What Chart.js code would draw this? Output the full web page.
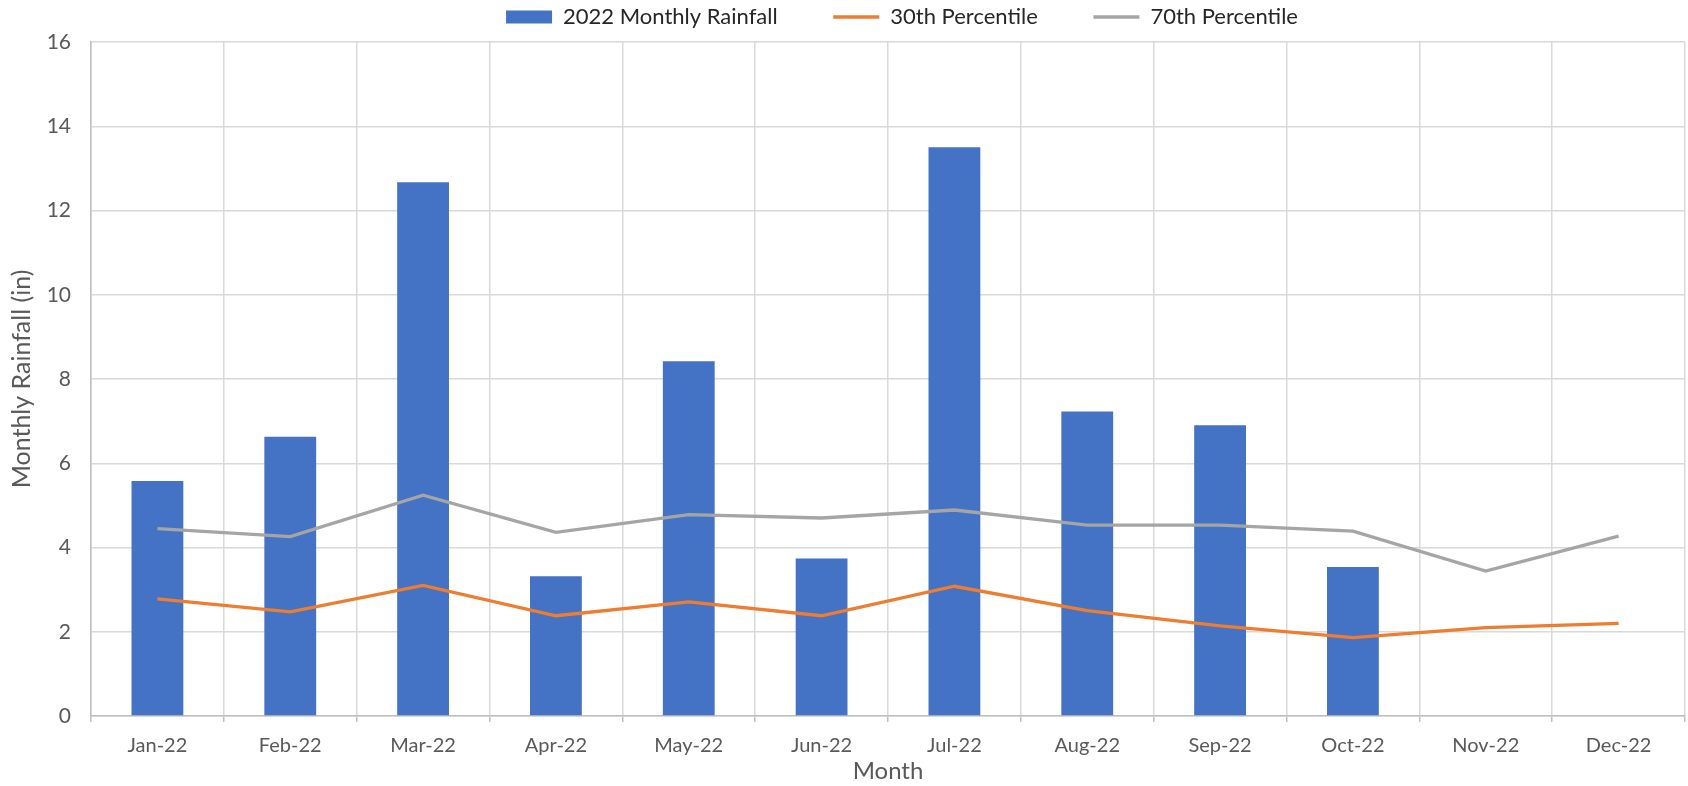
<!DOCTYPE html>
<html>
<head>
<meta charset="utf-8">
<script src="https://cdn.jsdelivr.net/npm/chart.js@4"></script>
<style>
    html, body { margin: 0; padding: 0; background: #fff; }
    #wrap { width: 1688px; height: 786px; position: relative; }
</style>
</head>
<body>
<div id="wrap"><canvas id="rainChart"></canvas></div>
<script>
const months = ['Jan-22', 'Feb-22', 'Mar-22', 'Apr-22', 'May-22', 'Jun-22',
                'Jul-22', 'Aug-22', 'Sep-22', 'Oct-22', 'Nov-22', 'Dec-22'];
const rainfall2022 = [5.58, 6.63, 12.67, 3.32, 8.42, 3.74, 13.50, 7.23, 6.90, 3.54, null, null];
const pct30 = [2.78, 2.47, 3.10, 2.38, 2.71, 2.38, 3.08, 2.50, 2.14, 1.86, 2.10, 2.20];
const pct70 = [4.45, 4.26, 5.24, 4.36, 4.78, 4.70, 4.89, 4.53, 4.53, 4.39, 3.44, 4.27];
const yTicks = [0, 2, 4, 6, 8, 10, 12, 14, 16];

const FONT = 'Lato, "Noto Sans", sans-serif';
const TEXT = '#595959';

let rainChart;

// legend is a bit taller in the original and sits a little right of centre
const legendGap = {
    id: 'legendGap',
    afterInit(chart) {
        const legend = chart.legend;
        if (!legend) return;
        const fit = legend.fit;
        legend.fit = function() {
            fit.call(this);
            this.height = 42;
        };
    },
    afterLayout(chart) {
        if (!chart.legend) return;
        chart.legend.left += 14;
        chart.legend.right += 14;
    }
};

Chart.defaults.font.family = FONT;
Chart.defaults.color = TEXT;
initChart();

function initChart() {
    const ctx = document.getElementById('rainChart').getContext('2d');
    rainChart = new Chart(ctx, {
        type: 'bar',
        data: {
            labels: months,
            datasets: [
                {
                    type: 'bar',
                    label: '2022 Monthly Rainfall',
                    data: rainfall2022,
                    backgroundColor: '#4472C4',
                    borderWidth: 0,
                    categoryPercentage: 1,
                    barPercentage: 0.39,
                    pointStyle: 'rect',
                    order: 2
                },
                {
                    type: 'line',
                    label: '30th Percentile',
                    data: pct30,
                    borderColor: '#ED7D31',
                    backgroundColor: '#ED7D31',
                    borderWidth: 3.3,
                    pointRadius: 0,
                    tension: 0,
                    pointStyle: 'line',
                    order: 1
                },
                {
                    type: 'line',
                    label: '70th Percentile',
                    data: pct70,
                    borderColor: '#A5A5A5',
                    backgroundColor: '#A5A5A5',
                    borderWidth: 3.3,
                    pointRadius: 0,
                    tension: 0,
                    pointStyle: 'line',
                    order: 0
                }
            ]
        },
        options: {
            responsive: true,
            maintainAspectRatio: false,
            animation: false,
            layout: {
                padding: { top: 0, right: 3, left: 0, bottom: 0 }
            },
            plugins: {
                legend: {
                    position: 'top',
                    fullSize: false,
                    labels: {
                        usePointStyle: true,
                        pointStyleWidth: 46,
                        boxHeight: 13,
                        padding: 6,
                        color: '#262626',
                        font: { size: 22 },
                        generateLabels: function(chart) {
                            const items = Chart.defaults.plugins.legend.labels.generateLabels(chart);
                            items.sort((a, b) => a.datasetIndex - b.datasetIndex);
                            // wider spacing between entries, like the original
                            items.forEach((item, i) => {
                                if (i < items.length - 1) item.text += '\u2003\u2003\u2002 ';
                            });
                            return items;
                        }
                    }
                },
                tooltip: { enabled: false }
            },
            scales: {
                x: {
                    grid: {
                        offset: true,
                        color: '#D9D9D9',
                        lineWidth: 1.5,
                        drawTicks: true,
                        tickLength: 6,
                        tickColor: '#BFBFBF'
                    },
                    border: { color: '#BFBFBF', width: 1.5 },
                    ticks: {
                        padding: 12,
                        maxRotation: 0,
                        font: { size: 20 }
                    },
                    title: {
                        display: true,
                        text: 'Month',
                        color: TEXT,
                        font: { size: 24 },
                        padding: { top: 0, bottom: 0 }
                    },
                    afterFit: function(scale) {
                        scale.height = 70;
                    }
                },
                y: {
                    min: 0,
                    max: 16,
                    afterBuildTicks: function(scale) {
                        scale.ticks = yTicks.map(v => ({ value: v }));
                    },
                    grid: {
                        color: '#D9D9D9',
                        lineWidth: 1.5,
                        drawTicks: false
                    },
                    border: { color: '#BFBFBF', width: 1.5 },
                    ticks: {
                        padding: 20,
                        font: { size: 21 }
                    },
                    title: {
                        display: true,
                        text: 'Monthly Rainfall (in)',
                        color: TEXT,
                        font: { size: 25 },
                        padding: { top: 7, bottom: 0 }
                    },
                    afterFit: function(scale) {
                        scale.width = 91;
                    }
                }
            }
        },
        plugins: [legendGap]
    });
}
</script>
</body>
</html>
